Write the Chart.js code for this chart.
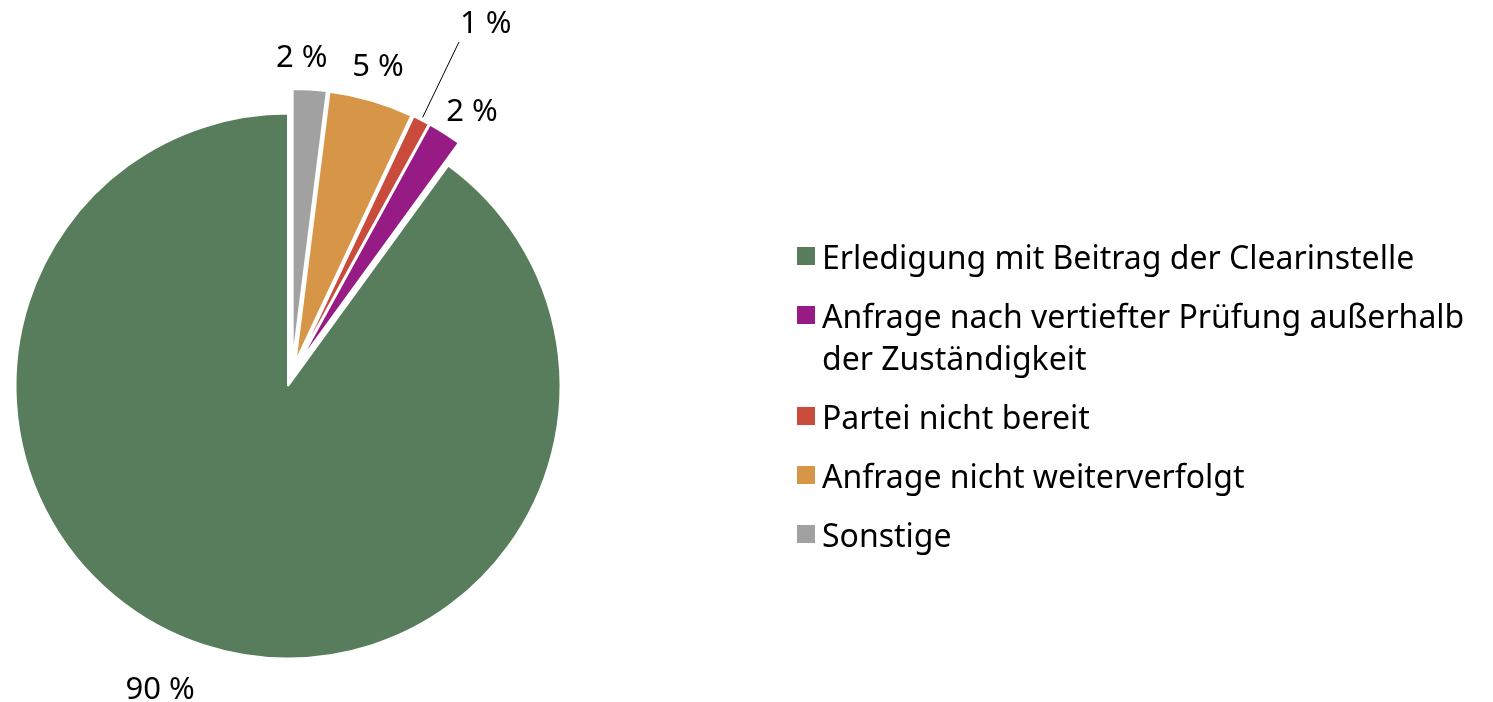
<!DOCTYPE html>
<html>
<head>
<meta charset="utf-8">
<script src="https://cdn.jsdelivr.net/npm/chart.js@4/dist/chart.umd.min.js"></script>
<style>
    body { margin: 0; background: #fff; overflow: hidden; }
    #wrap { position: relative; width: 1493px; height: 702px; }
    #legend {
        position: absolute; left: 797px; top: 236px;
        font-family: 'Noto Sans', sans-serif; font-size: 32px; color: #000;
    }
    .item { display: flex; align-items: flex-start; margin-bottom: 17px; }
    .box { width: 18px; height: 18px; margin-top: 11px; margin-right: 7px; flex: none; }
    .txt { line-height: 42px; max-width: 672px; }
</style>
</head>
<body>
<div id="wrap">
    <canvas id="pieChart" width="1493" height="702"></canvas>
    <div id="legend"></div>
</div>
<script>
// Legend order (the pie is drawn clockwise in the reverse order)
const categories = [
    'Erledigung mit Beitrag der Clearinstelle',
    'Anfrage nach vertiefter Prüfung außerhalb der Zuständigkeit',
    'Partei nicht bereit',
    'Anfrage nicht weiterverfolgt',
    'Sonstige'
];
const shares = [90, 2, 1, 5, 2];
const colors = ['#577D5C', '#961B84', '#C94B3C', '#D79647', '#A1A1A1'];

// chart data, reversed so that "Sonstige" starts at 12 o'clock
const pieLabels = categories.slice().reverse();
const pieValues = shares.slice().reverse();
const pieColors = colors.slice().reverse();

// Pull the small slices out of the pie (moves the arc centre, keeps the radius).
// Direction is squeezed toward the middle of the group so the gaps stay thin.
const explodeSlices = {
    id: 'explodeSlices',
    afterDatasetUpdate(chart, args, opts) {
        const arcs = args.meta.data;
        const moved = arcs.filter((a, i) => opts.distance[i]);
        if (!moved.length) return;
        const groupMid = (Math.min(...moved.map(a => a.startAngle)) + Math.max(...moved.map(a => a.endAngle))) / 2;
        arcs.forEach((arc, i) => {
            const d = opts.distance[i] || 0;
            if (!d) return;
            const mid = (arc.startAngle + arc.endAngle) / 2;
            const dir = groupMid + opts.spread * (mid - groupMid);
            arc.x += Math.cos(dir) * d;
            arc.y += Math.sin(dir) * d;
        });
    }
};

// Value labels outside the slices
const sliceLabels = {
    id: 'sliceLabels',
    afterDatasetsDraw(chart, args, opts) {
        const ctx = chart.ctx;
        const meta = chart.getDatasetMeta(0);
        const size = opts.size;
        ctx.save();
        ctx.font = size + 'px "Noto Sans"';
        ctx.fillStyle = '#000';
        ctx.textAlign = 'center';
        ctx.textBaseline = 'alphabetic';
        meta.data.forEach((arc, i) => {
            const mid = (arc.startAngle + arc.endAngle) / 2;
            const ang = mid + opts.shift[i] * Math.PI / 180;
            const dist = arc.outerRadius + opts.gap[i];
            const lx = arc.x + Math.cos(ang) * dist;
            const ly = arc.y + Math.sin(ang) * dist;
            const text = pieValues[i] + ' %';
            if (opts.leader[i]) {
                const w = ctx.measureText(text).width;
                const r0 = arc.outerRadius + 3;
                ctx.beginPath();
                ctx.strokeStyle = '#000';
                ctx.lineWidth = 1;
                ctx.moveTo(arc.x + Math.cos(mid) * r0, arc.y + Math.sin(mid) * r0);
                ctx.lineTo(lx - w / 2 - 1, ly + 20);
                ctx.stroke();
            }
            ctx.fillText(text, lx, ly + size * 0.36);
        });
        ctx.restore();
    }
};

new Chart(document.getElementById('pieChart').getContext('2d'), {
    type: 'pie',
    data: {
        labels: pieLabels,
        datasets: [{
            data: pieValues,
            backgroundColor: pieColors,
            borderColor: '#fff',
            borderWidth: 2,
            hoverOffset: 0
        }]
    },
    options: {
        responsive: false,
        animation: false,
        events: [],
        radius: 272.5,
        layout: { padding: { left: 2, top: 100, right: 919, bottom: 30 } },
        plugins: {
            legend: { display: false },
            tooltip: { enabled: false },
            explodeSlices: { distance: [25, 25, 25, 25, 0], spread: 0.5 },
            sliceLabels: {
                size: 31,
                gap: [33, 36, 117, 34.5, 55],
                shift: [-1.9, -0.65, 1.9, 2, 5],
                leader: [false, false, true, false, false]
            }
        }
    },
    plugins: [explodeSlices, sliceLabels]
});

// HTML legend in the original order
const legend = document.getElementById('legend');
legend.innerHTML = categories.map((name, i) => `
    <div class="item">
        <span class="box" style="background:${colors[i]}"></span>
        <span class="txt">${name}</span>
    </div>`).join('');
</script>
</body>
</html>
